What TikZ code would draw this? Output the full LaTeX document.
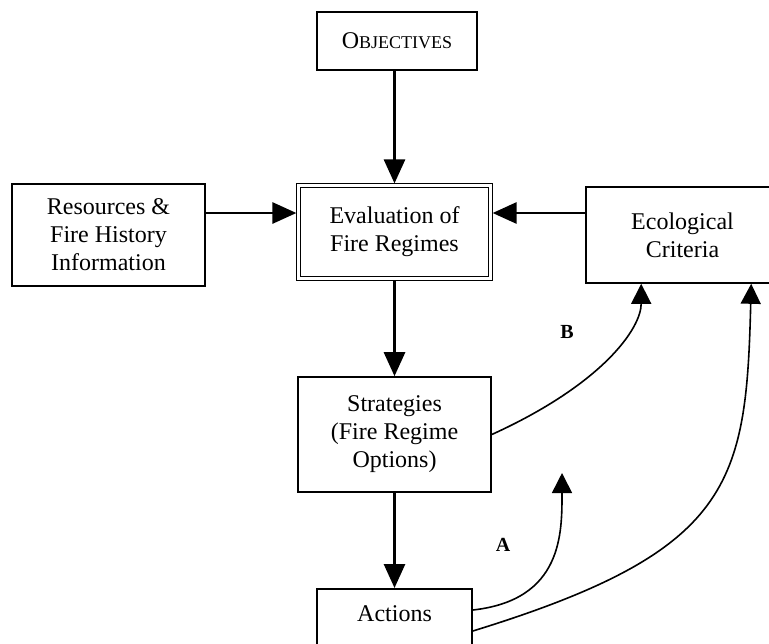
\documentclass[tikz,border=0pt]{standalone}
\usepackage{fontspec}
\setmainfont{Liberation Serif}
\usetikzlibrary{arrows.meta}
\usetikzlibrary{calc}
\begin{document}
\begin{tikzpicture}[x=0.5pt, y=-0.5pt,
   box/.style={draw, line width=0.8pt, align=center, inner sep=0pt,
               font=\fontsize{12}{14}\selectfont},
   flow/.style={line width=1.4pt, -{Triangle[length=12pt,width=10.5pt]}},
   feedback/.style={line width=0.8pt, -{Triangle[length=10pt,width=10pt]}},
   tag/.style={font=\fontsize{10}{12}\selectfont\bfseries}]
 \useasboundingbox (0,0) rectangle (769,643);
 \clip (0,0) rectangle (769,643);
 \node (obj) [box, minimum width=80pt, minimum height=29pt] at (397,41)
   {O{\fontsize{9}{9}\selectfont BJECTIVES}};
 \node (eval) [box, double, line width=0.5pt, double distance=1.15pt, outer sep=1.1pt,
   minimum width=95.9pt, minimum height=46.4pt] at (394.5,232) {Evaluation of\\Fire Regimes};
 \node (res) [box, minimum width=96.5pt, minimum height=51pt] at (108.5,235)
   {Resources \&\\Fire History\\Information};
 \node (eco) [box, minimum width=96.5pt, minimum height=48pt] at (682.5,235)
   {Ecological\\Criteria};
 \node (strat) [box, minimum width=96.5pt, minimum height=57.5pt] at (394.5,434.5)
   {Strategies\\(Fire Regime\\Options)};
 \node (act) [box, anchor=north, minimum width=77.5pt, inner ysep=8pt,
   text height=8.4pt, text depth=40pt] at (394.5,588) {Actions};
 \coordinate (aTip) at (562,473);
 \node (lblB) [tag] at (567,332) {B};
 \node (lblA) [tag] at (503,545) {A};
 \draw[flow] (eval.north |- obj.south) -- (eval.north);
 \draw[flow] ([yshift=11pt]res.east) -- ([yshift=11pt]res.east -| eval.west);
 \draw[flow] ([yshift=11pt]eco.west) -- ([yshift=11pt]eco.west -| eval.east);
 \draw[flow] (eval.south) -- (strat.north);
 \draw[flow] (strat.south) -- (act.north);
 \draw[feedback] (strat.east) .. controls +(110,-50) and +(0,45) .. ([xshift=28pt]eco.south west);
 \draw[feedback] ([yshift=-11pt]act.north east) .. controls +(90,-10) and +(0,60) .. (aTip);
 \draw[feedback] ([yshift=-21.5pt]act.north east) .. controls +(260,-80) and +(-5,200) .. ([xshift=83pt]eco.south west);
\end{tikzpicture}
\end{document}
